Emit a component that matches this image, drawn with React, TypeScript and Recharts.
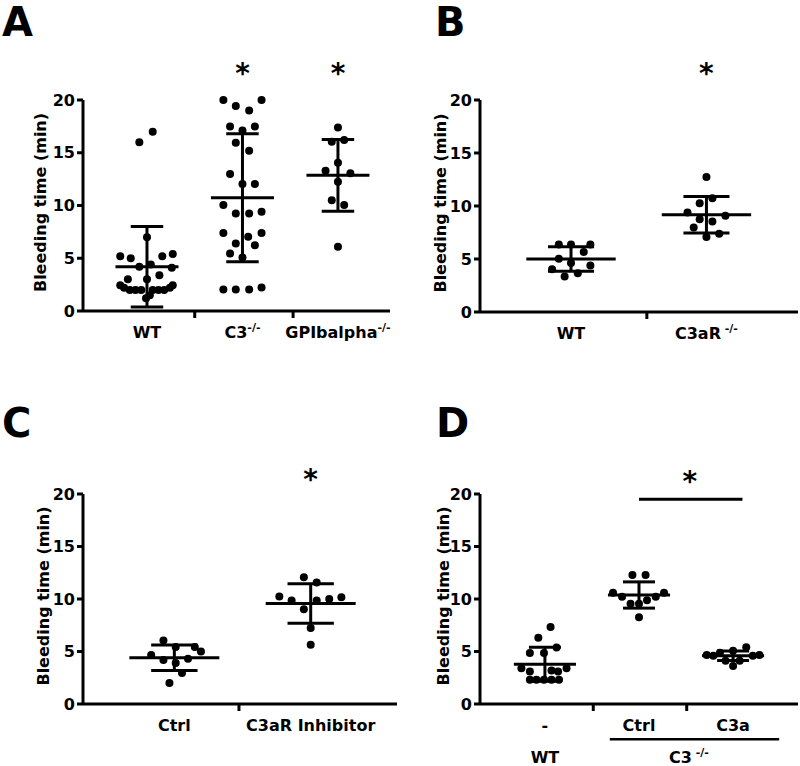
import React from 'react';
import { ScatterChart, Scatter, XAxis, YAxis, ReferenceLine, ReferenceDot, Label } from 'recharts';

const FONT = '"DejaVu Sans", Verdana, sans-serif';
const INK = '#000';

// ---- A: WT / C3-/- / GPIbalpha-/-
const aLabels = ['WT', 'C3', 'GPIbalpha'];
const aSups = ['', '-/-', '-/-'];
const aWT = [16.0, 17.0, 7.0, 5.2, 5.0, 5.2, 5.4, 4.2, 4.4, 4.1, 3.4, 3.0, 3.0, 2.45, 2.45, 2.2, 2.0, 2.0, 2.0, 2.0, 2.0, 2.0, 2.2, 1.5, 1.2];
const aWTSpread = [-0.08, 0.06, 0, -0.28, -0.17, 0.16, 0.27, -0.08, 0.04, 0.26, 0.13, -0.2, 0, -0.28, 0.27, -0.24, -0.18, -0.12, -0.06, 0.06, 0.12, 0.18, 0.24, 0.03, -0.01];
const aC3 = [20.0, 19.44, 19.0, 20.0, 17.5, 17.1, 17.5, 15.95, 15.2, 12.98, 12.03, 12.03, 10.04, 9.25, 9.25, 9.4, 7.4, 7.4, 6.4, 7.03, 6.24, 5.45, 5.07, 2.03, 2.03, 2.03, 2.22];
const aC3Spread = [-0.2, -0.07, 0.07, 0.2, -0.13, 0, 0.13, -0.07, 0.07, -0.13, 0, 0.13, -0.2, -0.07, 0.07, 0.2, -0.2, 0.2, -0.07, 0.06, 0.13, -0.13, 0, -0.2, -0.07, 0.07, 0.2];
const aGP = [17.4, 16.05, 16.2, 14.05, 13.3, 13.05, 12.25, 10.5, 10.04, 6.08];
const aGPSpread = [0, -0.065, 0.065, 0, -0.13, 0.13, 0, -0.065, 0.065, 0];
const aMeans = [4.2, 10.73, 12.86];
const aSds = [3.82, 6.06, 3.4];

// ---- B: WT / C3aR-/-
const bLabels = ['WT', 'C3aR'];
const bSups = ['', ' -/-'];
const bWT = [6.37, 6.37, 6.37, 5.67, 5.03, 4.62, 4.39, 4.04, 3.34, 3.66];
const bWTSpread = [-0.09, 0, 0.143, 0.094, -0.09, 0, 0.143, -0.14, -0.047, 0.05];
const bKO = [12.74, 10.25, 10.73, 9.39, 8.76, 8.54, 9.08, 7.96, 7.07, 7.39];
const bKOSpread = [0, -0.05, 0.044, -0.14, -0.05, 0.044, 0.14, -0.094, 0, 0.094];
const bMeans = [5.0, 9.17];
const bSds = [1.15, 1.72];

// ---- C: Ctrl / C3aR Inhibitor
const cLabels = ['Ctrl', 'C3aR Inhibitor'];
const cSups = ['', ''];
const cCtrl = [6.05, 5.42, 5.42, 5.0, 4.66, 4.2, 4.3, 3.9, 2.95, 2.0];
const cCtrlSpread = [-0.08, 0.01, 0.15, 0.195, -0.17, -0.08, 0.1, 0.01, 0.056, -0.036];
const cInh = [12.08, 11.57, 10.24, 9.86, 9.86, 10.0, 10.17, 9.03, 7.23, 5.64];
const cInhSpread = [-0.05, 0.044, -0.23, -0.14, 0.044, 0.136, 0.225, -0.05, 0, 0];
const cMeans = [4.4, 9.57];
const cSds = [1.22, 1.88];

// ---- D: WT - / C3-/- Ctrl / C3-/- C3a
const dLabels = ['-', 'Ctrl', 'C3a'];
const dSups = ['', '', ''];
const dWT = [7.33, 6.32, 5.37, 4.86, 4.86, 3.4, 3.1, 3.2, 3.1, 3.4, 2.3, 2.3, 2.3, 2.3, 2.3];
const dWTSpread = [0.06, -0.07, 0.124, -0.16, -0.01, -0.25, -0.16, 0.07, 0.14, 0.23, -0.16, -0.09, -0.01, 0.07, 0.15];
const dCtrl = [12.29, 12.29, 10.6, 10.22, 9.55, 9.55, 9.87, 10.22, 10.6, 8.27];
const dCtrlSpread = [-0.07, 0.07, -0.276, -0.18, -0.09, 0, 0.085, 0.178, 0.266, 0];
const dC3a = [5.4, 5.08, 4.89, 4.67, 4.67, 4.6, 4.6, 4.12, 4.12, 3.62];
const dC3aSpread = [0.14, 0, -0.14, -0.28, 0.28, -0.21, 0.21, -0.08, 0.07, 0];
const dMeans = [3.79, 10.38, 4.6];
const dSds = [1.62, 1.25, 0.45];

const yTicks = [0, 5, 10, 15, 20];

type Group = { values: number[]; spread: number[] };
type Star = { x: number; y: number };

interface PanelProps {
  left: number;
  top: number;
  width: number;
  height: number;
  margin: { top: number; right: number; bottom: number; left: number };
  yAxisWidth: number;
  xAxisHeight: number;
  xDomain: [number, number];
  boundaries: number[];
  labels: string[];
  sups: string[];
  groups: Group[];
  means: number[];
  sds: number[];
  stars: Star[];
  titleX: number;
  children?: React.ReactNode;
}

const dot = (s: any) => <circle cx={s.cx} cy={s.cy} r={4} fill={INK} />;

const starShape = (s: any) => (
  <text x={s.cx} y={s.cy + 15} textAnchor="middle" fontFamily={FONT} fontWeight="bold" fontSize={28} fill={INK}>
    *
  </text>
);

function Panel(p: PanelProps) {
  const centers = p.labels.map((_, i) => i);
  const ticks = [...p.boundaries, ...centers];

  const renderTick = (t: any) => {
    const v = t.payload.value;
    if (p.boundaries.includes(v)) {
      return <line x1={t.x} x2={t.x} y1={t.y} y2={t.y + 7} stroke={INK} strokeWidth={3} />;
    }
    const i = Math.round(v);
    return (
      <text x={t.x} y={t.y + 27} textAnchor="middle" fontFamily={FONT} fontWeight="bold" fontSize={16} fill={INK}>
        {p.labels[i]}
        {p.sups[i] ? (
          <tspan fontSize={11} dy={-7}>
            {p.sups[i]}
          </tspan>
        ) : null}
      </text>
    );
  };

  const yTitle = (l: any) => {
    const vb = l.viewBox;
    const cx = vb.x + p.titleX;
    const cy = vb.y + vb.height / 2 - 3;
    return (
      <text
        x={cx}
        y={cy}
        transform={`rotate(-90 ${cx} ${cy})`}
        textAnchor="middle"
        dominantBaseline="central"
        fontFamily={FONT}
        fontWeight="bold"
        fontSize={16}
        fill={INK}
      >
        Bleeding time (min)
      </text>
    );
  };

  return (
    <div style={{ position: 'absolute', left: p.left, top: p.top }}>
      <ScatterChart width={p.width} height={p.height} margin={p.margin}>
        <XAxis
          type="number"
          dataKey="x"
          domain={p.xDomain}
          ticks={ticks}
          interval={0}
          height={p.xAxisHeight}
          tickLine={false}
          tickSize={0}
          tickMargin={0}
          tick={renderTick}
          axisLine={{ stroke: INK, strokeWidth: 3 }}
        />
        <YAxis
          type="number"
          dataKey="y"
          domain={[0, 20]}
          ticks={yTicks}
          interval={0}
          width={p.yAxisWidth}
          tickSize={6}
          tickMargin={2}
          axisLine={{ stroke: INK, strokeWidth: 3 }}
          tickLine={{ stroke: INK, strokeWidth: 3 }}
          tick={{ fill: INK, fontSize: 16, fontWeight: 'bold', fontFamily: FONT }}
        >
          <Label content={yTitle} />
        </YAxis>
        {p.groups.map((g, i) => (
          <Scatter
            key={`g${i}`}
            data={g.values.map((v, j) => ({ x: i + g.spread[j], y: v }))}
            shape={dot}
            fill={INK}
            isAnimationActive={false}
          />
        ))}
        {p.means.map((m, i) => (
          <ReferenceLine
            key={`m${i}`}
            segment={[{ x: i - 0.33, y: m }, { x: i + 0.33, y: m }]}
            stroke={INK}
            strokeWidth={3}
            ifOverflow="visible"
          />
        ))}
        {p.means.map((m, i) => (
          <ReferenceLine
            key={`v${i}`}
            segment={[{ x: i, y: m - p.sds[i] }, { x: i, y: m + p.sds[i] }]}
            stroke={INK}
            strokeWidth={3}
            ifOverflow="visible"
          />
        ))}
        {p.means.map((m, i) => (
          <ReferenceLine
            key={`u${i}`}
            segment={[{ x: i - 0.17, y: m + p.sds[i] }, { x: i + 0.17, y: m + p.sds[i] }]}
            stroke={INK}
            strokeWidth={3}
            ifOverflow="visible"
          />
        ))}
        {p.means.map((m, i) => (
          <ReferenceLine
            key={`l${i}`}
            segment={[{ x: i - 0.17, y: m - p.sds[i] }, { x: i + 0.17, y: m - p.sds[i] }]}
            stroke={INK}
            strokeWidth={3}
            ifOverflow="visible"
          />
        ))}
        {p.stars.map((s, i) => (
          <ReferenceDot key={`s${i}`} x={s.x} y={s.y} r={0} ifOverflow="visible" shape={starShape} />
        ))}
        {p.children}
      </ScatterChart>
    </div>
  );
}

const groupText = (text: string, sup: string) => (s: any) => (
  <text x={s.cx} y={s.cy} textAnchor="middle" fontFamily={FONT} fontWeight="bold" fontSize={16} fill={INK}>
    {text}
    {sup ? (
      <tspan fontSize={11} dy={-7}>
        {sup}
      </tspan>
    ) : null}
  </text>
);

export default function App() {
  return (
    <div style={{ position: 'absolute', left: 0, top: 0, width: 800, height: 766, background: '#fff', fontFamily: FONT }}>
      <Panel
        left={0}
        top={0}
        width={400}
        height={400}
        margin={{ top: 100, right: 10, bottom: 29, left: 0 }}
        yAxisWidth={83}
        xAxisHeight={60}
        xDomain={[-0.67, 2.545]}
        boundaries={[0.5, 1.53]}
        labels={aLabels}
        sups={aSups}
        groups={[
          { values: aWT, spread: aWTSpread },
          { values: aC3, spread: aC3Spread },
          { values: aGP, spread: aGPSpread },
        ]}
        means={aMeans}
        sds={aSds}
        stars={[
          { x: 1, y: 23 },
          { x: 2, y: 23 },
        ]}
        titleX={40}
      />
      <Panel
        left={400}
        top={0}
        width={400}
        height={400}
        margin={{ top: 100, right: 2, bottom: 28, left: 0 }}
        yAxisWidth={80}
        xAxisHeight={60}
        xDomain={[-0.672, 1.676]}
        boundaries={[0.56]}
        labels={bLabels}
        sups={bSups}
        groups={[
          { values: bWT, spread: bWTSpread },
          { values: bKO, spread: bKOSpread },
        ]}
        means={bMeans}
        sds={bSds}
        stars={[{ x: 1, y: 23 }]}
        titleX={40}
      />
      <Panel
        left={0}
        top={400}
        width={400}
        height={366}
        margin={{ top: 94, right: 3, bottom: 12, left: 0 }}
        yAxisWidth={83}
        xAxisHeight={50}
        xDomain={[-0.67, 1.633]}
        boundaries={[0.474]}
        labels={cLabels}
        sups={cSups}
        groups={[
          { values: cCtrl, spread: cCtrlSpread },
          { values: cInh, spread: cInhSpread },
        ]}
        means={cMeans}
        sds={cSds}
        stars={[{ x: 1, y: 21.9 }]}
        titleX={43}
      />
      <Panel
        left={400}
        top={400}
        width={400}
        height={366}
        margin={{ top: 94, right: 2, bottom: 12, left: 0 }}
        yAxisWidth={80}
        xAxisHeight={50}
        xDomain={[-0.69, 2.69]}
        boundaries={[0.514, 1.507]}
        labels={dLabels}
        sups={dSups}
        groups={[
          { values: dWT, spread: dWTSpread },
          { values: dCtrl, spread: dCtrlSpread },
          { values: dC3a, spread: dC3aSpread },
        ]}
        means={dMeans}
        sds={dSds}
        stars={[{ x: 1.54, y: 21.7 }]}
        titleX={43}
      >
        <ReferenceLine
          segment={[{ x: 1, y: 19.5 }, { x: 2.1, y: 19.5 }]}
          stroke={INK}
          strokeWidth={3}
          ifOverflow="visible"
        />
        <ReferenceLine
          segment={[{ x: 0.69, y: -3.36 }, { x: 2.49, y: -3.36 }]}
          stroke={INK}
          strokeWidth={2.5}
          ifOverflow="visible"
        />
        <ReferenceDot x={0} y={-5.6} r={0} ifOverflow="visible" shape={groupText('WT', '')} />
        <ReferenceDot x={1.53} y={-5.6} r={0} ifOverflow="visible" shape={groupText('C3', ' -/-')} />
      </Panel>
      <svg width={800} height={766} style={{ position: 'absolute', left: 0, top: 0, pointerEvents: 'none' }}>
        <g fontFamily={FONT} fontWeight="bold" fontSize={40} fill={INK}>
          <text x={2} y={36}>A</text>
          <text x={435} y={36}>B</text>
          <text x={2} y={437}>C</text>
          <text x={436} y={437}>D</text>
        </g>
      </svg>
    </div>
  );
}
